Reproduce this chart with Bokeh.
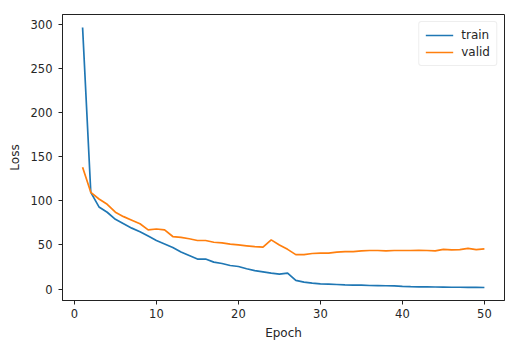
from bokeh.plotting import figure
from bokeh.models import FixedTicker, Range1d, Legend, LegendItem
from bokeh.embed import file_html
from bokeh.resources import INLINE

epochs = list(range(1, 51))
train = [296, 109.5, 93, 87, 79, 74, 69, 65, 60, 55,
         51, 47, 42, 38, 34, 34, 30.5, 29, 26.7, 25.6,
         23, 21, 19.5, 18, 17, 18, 9.8, 7.9, 6.8, 6,
         5.6, 5.2, 4.8, 4.5, 4.4, 4.1, 4, 3.8, 3.6, 3,
         2.7, 2.6, 2.5, 2.4, 2.3, 2.1, 2.1, 2, 2, 1.8]
valid = [138, 109.5, 102, 96, 87, 82, 78, 74, 67, 68,
         67, 59.5, 58.5, 57, 55, 55, 53, 52.4, 51, 50,
         49, 48, 47.4, 55.7, 50, 45, 39, 39, 40.3, 40.7,
         40.7, 41.8, 42.5, 42.5, 43.3, 43.7, 43.7, 43.3, 43.7, 43.7,
         43.7, 44, 43.7, 43.3, 45, 44.3, 44.7, 46, 44.7, 45.5]
x_ticks = [0, 10, 20, 30, 40, 50]
y_ticks = [0, 50, 100, 150, 200, 250, 300]
series_names = ["train", "valid"]
colors = ["#1f77b4", "#ff7f0e"]

FONT = "DejaVu Sans"

p = figure(width=518, height=351, frame_width=442, frame_height=286,
           min_border_left=62, min_border_right=14, min_border_top=14, min_border_bottom=51,
           output_backend="svg", toolbar_location=None,
           x_range=Range1d(-1.45, 52.45), y_range=Range1d(-12.9, 310.8))

r1 = p.line(epochs, train, line_color=colors[0], line_width=1.7)
r2 = p.line(epochs, valid, line_color=colors[1], line_width=1.7)

p.xgrid.visible = False
p.ygrid.visible = False
p.outline_line_color = "#222222"
p.outline_line_width = 1
p.background_fill_color = "white"
p.border_fill_color = "white"

p.xaxis.ticker = FixedTicker(ticks=x_ticks)
p.yaxis.ticker = FixedTicker(ticks=y_ticks)
p.xaxis.axis_label = "Epoch"
p.yaxis.axis_label = "Loss"
for ax in (p.xaxis[0], p.yaxis[0]):
    ax.axis_line_color = "#222222"
    ax.major_tick_line_color = "#222222"
    ax.major_tick_in = 0
    ax.major_tick_out = 4
    ax.minor_tick_line_color = None
    ax.major_label_text_font = FONT
    ax.major_label_text_font_size = "11.5px"
    ax.major_label_text_color = "#262626"
    ax.axis_label_text_font = FONT
    ax.axis_label_text_font_size = "12px"
    ax.axis_label_text_font_style = "normal"
    ax.axis_label_text_color = "#262626"
p.yaxis[0].major_label_standoff = 6
p.xaxis[0].major_label_standoff = 4
p.xaxis[0].axis_label_standoff = 5
p.yaxis[0].axis_label_standoff = 6

legend = Legend(items=[LegendItem(label=series_names[0], renderers=[r1]),
                       LegendItem(label=series_names[1], renderers=[r2])],
                location="top_right")
legend.margin = 7
legend.padding = 6
legend.spacing = 3
legend.label_height = 14
legend.glyph_height = 14
legend.glyph_width = 28
legend.label_standoff = 8
legend.label_text_font = FONT
legend.label_text_font_size = "12px"
legend.label_text_color = "#262626"
legend.border_line_color = "#dddddd"
legend.border_line_width = 1
legend.border_radius = 3
legend.background_fill_alpha = 0.8
p.add_layout(legend)

open("out.html", "w").write(file_html(p, INLINE))
